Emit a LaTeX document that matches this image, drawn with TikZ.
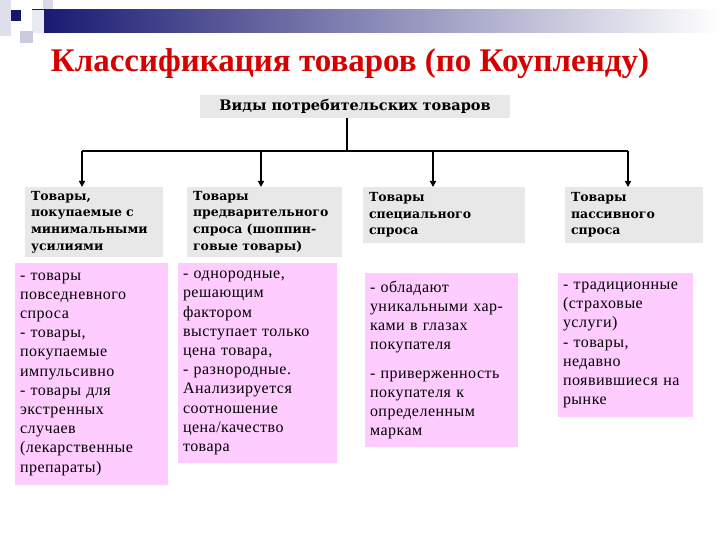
\documentclass[tikz,border=0pt]{standalone}
\usepackage{fontspec}
\setmainfont{Liberation Serif}
\newfontfamily\slabfont{DejaVu Serif}
\newfontfamily\notefont[LetterSpace=3]{Liberation Serif}
\usetikzlibrary{positioning,arrows.meta}
\definecolor{kindgray}{RGB}{232,232,232}
\definecolor{notepink}{RGB}{255,204,255}
\definecolor{titlered}{RGB}{215,0,0}
\definecolor{barnavy}{RGB}{22,22,112}
\definecolor{barpale}{RGB}{200,204,222}

\begin{document}
\begin{tikzpicture}
		[x=1pt, y=-1pt,
		every node/.style={inner sep=0pt, outer sep=0pt},
		kind/.style={fill=kindgray, anchor=north west, align=left,
			inner xsep=6pt, text width=#1,
			font=\slabfont\bfseries\fontsize{12.5}{16.7}\selectfont},
		note/.style={fill=notepink, anchor=north west, align=left,
			inner xsep=5pt, text width=#1,
			font=\notefont\fontsize{16}{19.2}\selectfont},
		link/.style={line width=1.4pt, -{Triangle[length=6pt,width=6pt]}},
		]
		\useasboundingbox (0,0) rectangle (720,540);
		
		% slide decoration
		\fill[barpale!60] (0,0) rectangle (11,36);
		\fill[barpale!70] (43,0) rectangle (53,10);
		\shade[left color=barnavy, right color=white] (32,10) rectangle (720,33);
		\fill[barpale!40] (32,10) rectangle (44,33);
		\fill[barnavy] (11,10) rectangle (21,21);
		\fill[barpale] (20,31) rectangle (33,43);
		
		\node[font=\bfseries\fontsize{33}{36}\selectfont, text=titlered] (title)
			at (350,64) {Классификация товаров (по Коупленду)};
		
		\node[fill=kindgray, anchor=north west, minimum width=310pt, minimum height=23pt,
			font=\slabfont\bfseries\fontsize{14.5}{16}\selectfont] (kinds)
			at (200,95) {Виды потребительских товаров};
		
		% second level
		\node[kind=126pt, minimum height=70pt] (cheap) at (25,187)
			{Товары,\\покупаемые с\\минимальными\\усилиями};
		\node[kind=143pt, minimum height=70pt] (shop) at (187,187)
			{Товары\\предварительного\\спроса (шоппин-\\говые товары)};
		\node[kind=150pt, minimum height=56pt] (special) at (363,187)
			{Товары\\специального\\спроса};
		\node[kind=126pt, minimum height=56pt] (passive) at (565,187)
			{Товары\\пассивного\\спроса};
		
		% descriptions
		\node[note=143pt, minimum height=222pt] (cheapnote) at (15,263)
			{- товары\\повседневного\\спроса\\- товары,\\покупаемые\\импульсивно\\- товары для\\экстренных\\случаев\\(лекарственные\\препараты)};
		\node[note=149pt, minimum height=200pt] (shopnote) at (178,263)
			{- однородные,\\решающим\\фактором\\выступает только\\цена товара,\\- разнородные.\\Анализируется\\соотношение\\цена/качество\\товара};
		\node[note=143pt, minimum height=174pt] (specialnote) at (365,273)
			{- обладают\\уникальными хар-\\ками в глазах\\покупателя\\[9pt]- приверженность\\покупателя к\\определенным\\маркам};
		\node[note=125pt, minimum height=144pt] (passivenote) at (558,273)
			{- традиционные\\(страховые\\услуги)\\- товары,\\недавно\\появившиеся на\\рынке};
		
		% connectors
		\coordinate (bus) at (347,151);
		\coordinate (a1) at (82,151);
		\coordinate (a2) at (261,151);
		\coordinate (a3) at (433,151);
		\coordinate (a4) at (628,151);
		\draw[line width=1.4pt] (kinds.south -| bus) -- (bus);
		\draw[line width=1.4pt] (a1) -- (a4);
		\draw[link] (a1) -- (a1 |- cheap.north);
		\draw[link] (a2) -- (a2 |- shop.north);
		\draw[link] (a3) -- (a3 |- special.north);
		\draw[link] (a4) -- (a4 |- passive.north);
		
	\end{tikzpicture}
\end{document}
